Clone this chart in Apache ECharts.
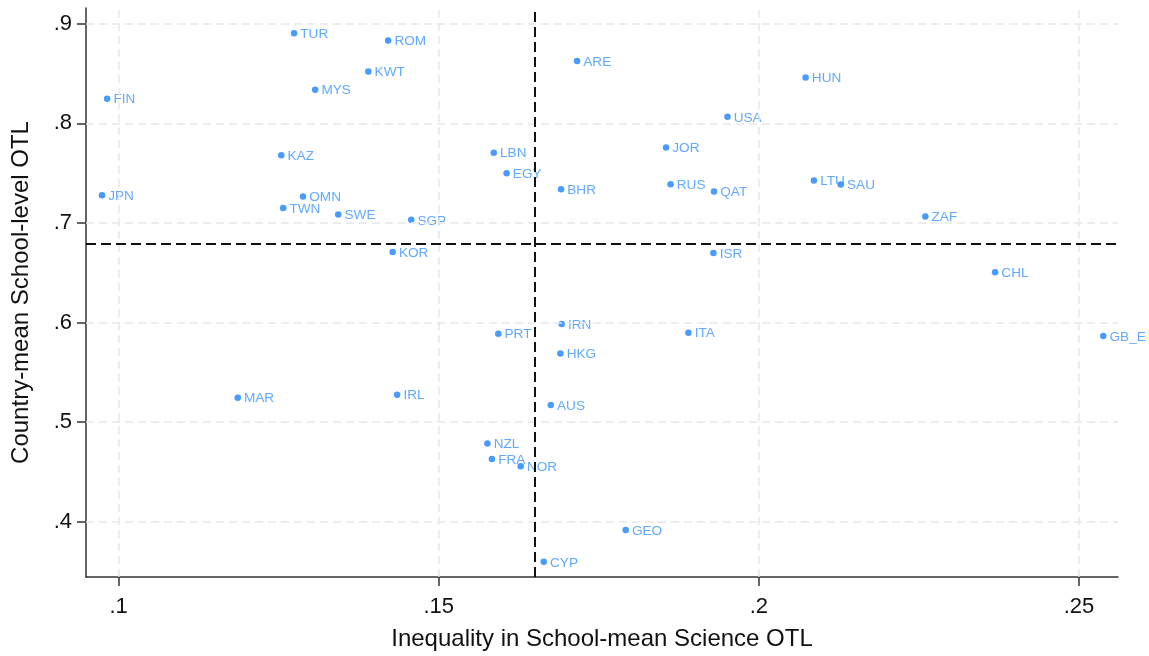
<!DOCTYPE html>
<html>
<head>
<meta charset="utf-8">
<script src="https://cdn.jsdelivr.net/npm/echarts@6/dist/echarts.min.js"></script>
<style>
html,body{margin:0;padding:0;background:#fff;}
#chart{width:1149px;height:656px;}
</style>
</head>
<body>
<div id="chart"></div>
<script>
const codes = ['TUR','ROM','KWT','MYS','FIN','ARE','HUN','USA','KAZ','LBN','JOR','EGY','LTU','SAU','RUS','BHR','QAT','JPN','OMN','TWN','SWE','SGP','ZAF','KOR','ISR','CHL','IRN','PRT','ITA','GB_E','HKG','MAR','IRL','AUS','NZL','FRA','NOR','GEO','CYP'];
const xVals = [0.1274,0.1421,0.1390,0.1307,0.0982,0.1716,0.2073,0.1951,0.1254,0.1586,0.1855,0.1606,0.2086,0.2128,0.1862,0.1691,0.1930,0.0974,0.1288,0.1257,0.1343,0.1457,0.2260,0.1428,0.1929,0.2369,0.1692,0.1593,0.1890,0.2538,0.1690,0.1186,0.1435,0.1675,0.1576,0.1583,0.1628,0.1792,0.1664];
const yVals = [0.8905,0.8831,0.8520,0.8338,0.8248,0.8625,0.8461,0.8065,0.7680,0.7705,0.7758,0.7498,0.7425,0.7385,0.7388,0.7338,0.7315,0.7278,0.7265,0.7151,0.7085,0.7031,0.7065,0.6708,0.6698,0.6505,0.5985,0.5888,0.5898,0.5865,0.5688,0.5245,0.5275,0.5171,0.4785,0.4631,0.4558,0.3918,0.3598];
const xTicks = [0.1,0.15,0.2,0.25];
const yTicks = [0.4,0.5,0.6,0.7,0.8,0.9];
const meanX = 0.1650;
const meanY = 0.6787;
const xRange = [0.0949,0.2561];
const yRange = [0.3445,0.9158];
const xTitle = 'Inequality in School-mean Science OTL';
const yTitle = 'Country-mean School-level OTL';

const fmt = v => String(+(+v).toFixed(3)).replace(/^0\./,'.');
const points = codes.map((c,i)=>[xVals[i], yVals[i], c]);
const font = '"Liberation Sans", Arial, sans-serif';

const chart = echarts.init(document.getElementById('chart'), null, {renderer:'canvas'});
chart.setOption({
  animation:false,
  backgroundColor:'#fff',
  grid:{left:86, right:31, top:8, bottom:77, containLabel:false},
  xAxis:{
    type:'value', min:xRange[0], max:xRange[1],
    name:xTitle, nameLocation:'middle', nameGap:50,
    nameTextStyle:{fontFamily:font, fontSize:24, color:'#111'},
    axisLine:{show:true, onZero:false, lineStyle:{color:'#333', width:1.5}},
    axisTick:{show:true, length:9, inside:false, customValues:xTicks, lineStyle:{color:'#333', width:1.5}},
    axisLabel:{customValues:xTicks, formatter:fmt, fontFamily:font, fontSize:22, color:'#111', margin:19},
    splitLine:{show:false}
  },
  yAxis:{
    type:'value', min:yRange[0], max:yRange[1],
    name:yTitle, nameLocation:'middle', nameGap:53,
    nameTextStyle:{fontFamily:font, fontSize:24, color:'#111'},
    axisLine:{show:true, onZero:false, lineStyle:{color:'#333', width:1.5}},
    axisTick:{show:true, length:9, inside:false, customValues:yTicks, lineStyle:{color:'#333', width:1.5}},
    axisLabel:{customValues:yTicks, formatter:fmt, fontFamily:font, fontSize:22, color:'#111', margin:14},
    splitLine:{show:false}
  },
  series:[
    {
      type:'scatter', data:[], z:1, silent:true,
      markLine:{
        silent:true, symbol:['none','none'], animation:false, precision:4,
        label:{show:false},
        lineStyle:{color:'#e8e8e8', width:1.5, type:[8,5]},
        emphasis:{disabled:true},
        data: xTicks.map(v=>({xAxis:v})).concat(yTicks.map(v=>({yAxis:v})))
      }
    },
    {
      type:'scatter', data:[], z:3, silent:true,
      markLine:{
        silent:true, symbol:['none','none'], animation:false, precision:4,
        label:{show:false},
        lineStyle:{color:'#111', width:2, type:[10,5]},
        emphasis:{disabled:true},
        data:[{xAxis:meanX},{yAxis:meanY}]
      }
    },
    {
      type:'scatter', z:4,
      data:points,
      symbol:'circle', symbolSize:6.5,
      itemStyle:{color:'#1a82ff'},
      label:{show:true, position:'right', distance:3, offset:[0,1],
        formatter:p=>p.data[2], fontFamily:font, fontSize:13.6, color:'#3a93ff'},
      emphasis:{disabled:true}
    }
  ]
});
</script>
</body>
</html>
